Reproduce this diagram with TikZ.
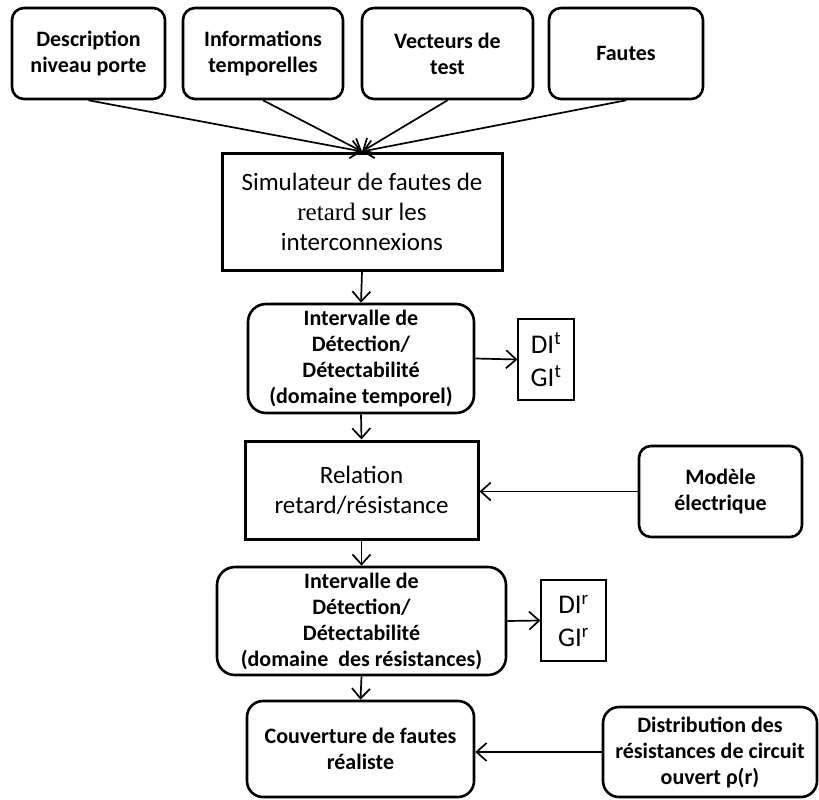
\documentclass[tikz,border=0pt]{standalone}
\usepackage{fontspec}
\setmainfont{Carlito}
\newfontfamily\retardfont{Liberation Serif}
\usetikzlibrary{arrows.meta}

\begin{document}
\begin{tikzpicture}[x=1bp, y=-1bp, >={Straight Barb[length=10bp, width=18bp]},
    every node/.style={align=center, inner sep=0pt},
    rbox/.style={draw, rounded corners=12bp, line width=2.6bp,
      font={\fontsize{22bp}{26bp}\selectfont\bfseries}},
    sbox/.style={draw, line width=3bp,
      font={\fontsize{25bp}{30bp}\selectfont}},
    dbox/.style={draw, line width=1.2bp,
      font={\fontsize{27bp}{33bp}\selectfont}},
    arr/.style={->, line width=1.7bp}]
    \useasboundingbox (0,0) rectangle (819,800);
    % inputs
    \node[rbox, minimum width=153bp, minimum height=91bp]
      (desc) at (88.5,53.5) {Description\\niveau porte};
    \node[rbox, minimum width=160bp, minimum height=91bp]
      (info) at (263,53.5) {Informations\\temporelles};
    \node[rbox, minimum width=171bp, minimum height=91bp]
      (vect) at (447.5,53.5) {Vecteurs de\\test};
    \node[rbox, minimum width=154bp, minimum height=91bp]
      (faut) at (626,53.5) {Fautes};
    % simulator
    \node[sbox, minimum width=280bp, minimum height=117bp]
      (sim) at (362,211.5)
      {Simulateur de fautes de\\{\retardfont retard} sur les\\interconnexions};
    \foreach \n in {desc, info, vect, faut}
      \draw[arr] (\n.south) -- (sim.north);
    % time domain
    \node[rbox, rounded corners=18bp, minimum width=226bp, minimum height=109bp]
      (int1) at (361,358.5)
      {Intervalle de\\D\'etection/\\D\'etectabilit\'e\\(domaine temporel)};
    \node[dbox, minimum width=56bp, minimum height=81bp]
      (dit) at (546,359.5) {DI\textsuperscript{t}\\GI\textsuperscript{t}};
    \draw[arr] (sim.south) -- (int1.north);
    \draw[arr] (int1.east) -- (dit.west);
    % delay / resistance
    \node[sbox, minimum width=233bp, minimum height=98bp]
      (rel) at (361.5,490) {Relation\\retard/r\'esistance};
    \node[rbox, minimum width=163bp, minimum height=91bp]
      (mod) at (720.5,491.5) {Mod\`ele\\\'electrique};
    \draw[arr] (int1.south) -- (rel.north);
    \draw[arr] (mod.west) -- (mod.west -| rel.east);
    % resistance domain
    \node[rbox, rounded corners=18bp, minimum width=289bp, minimum height=108bp]
      (int2) at (361.5,621)
      {Intervalle de\\D\'etection/\\D\'etectabilit\'e\\(domaine\ \ des r\'esistances)};
    \node[dbox, minimum width=65bp, minimum height=81bp]
      (dir) at (573.5,620.5) {DI\textsuperscript{r}\\GI\textsuperscript{r}};
    \draw[arr] (rel.south) -- (int2.north);
    \draw[arr] (int2.east) -- (dir.west);
    % coverage
    \node[rbox, rounded corners=16bp, minimum width=227bp, minimum height=96bp]
      (couv) at (360.5,749) {Couverture de fautes\\r\'ealiste};
    \node[rbox, rounded corners=16bp, minimum width=214bp, minimum height=90bp]
      (dist) at (710,752)
      {Distribution des\\r\'esistances de circuit\\ouvert ρ(r)};
    \draw[arr] (int2.south) -- (couv.north);
    \draw[arr] (dist.west) -- (dist.west -| couv.east);
  \end{tikzpicture}
\end{document}
